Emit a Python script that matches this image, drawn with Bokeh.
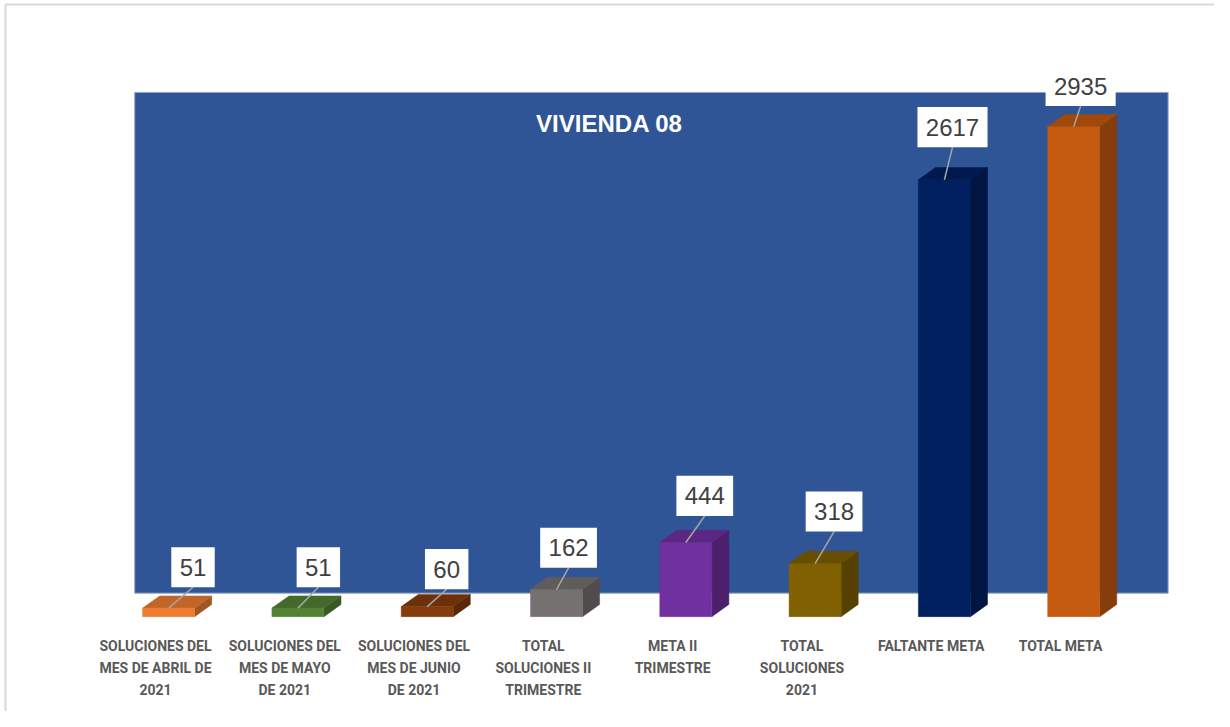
from bokeh.plotting import figure
from bokeh.models import Range1d
from bokeh.core.properties import value
from bokeh.embed import file_html
from bokeh.resources import INLINE

# ---------------- data ----------------
categories = [
    "SOLUCIONES DEL\nMES DE ABRIL DE\n2021",
    "SOLUCIONES DEL\nMES DE MAYO\nDE 2021",
    "SOLUCIONES DEL\nMES DE JUNIO\nDE 2021",
    "TOTAL\nSOLUCIONES II\nTRIMESTRE",
    "META II\nTRIMESTRE",
    "TOTAL\nSOLUCIONES\n2021",
    "FALTANTE META",
    "TOTAL META",
]
values = [51, 51, 60, 162, 444, 318, 2617, 2935]
bar_colors = ["#ED7D31", "#548235", "#843C0C", "#767171",
              "#7030A0", "#806000", "#002060", "#C55A11"]
title_text = "VIVIENDA 08"

# ---------------- layout (pixels) ----------------
W, H = 1214, 711
SX, SY = W / 1230.0, H / 727.0   # reference-pixel -> canvas-pixel
CAT_PX = 131.0 * SX               # pixels per category
CAT0_PX = 157.0 * SX              # canvas x of first category centre
BASE_PX = 630.0 * SY              # canvas y of value 0
PPU = 0.1707 * SY                 # pixels per value unit


def px2x(d):
    return d * SX / CAT_PX


def px2y(d):
    return d * SY / PPU


def shade(hex_color, f):
    h = hex_color.lstrip("#")
    r, g, b = (int(h[i:i + 2], 16) for i in (0, 2, 4))
    return "#%02x%02x%02x" % (int(r * f), int(g * f), int(b * f))


p = figure(width=W, height=H,
           x_range=Range1d(-CAT0_PX / CAT_PX, (W - CAT0_PX) / CAT_PX),
           y_range=Range1d(-(H - BASE_PX) / PPU, BASE_PX / PPU),
           output_backend="svg", toolbar_location=None,
           x_axis_type=None, y_axis_type=None, min_border=0)
p.grid.visible = False
p.outline_line_color = None
p.background_fill_color = "white"
p.border_fill_color = "white"

# chart-area border (top and left only, as in the reference)
bl, bt = px2x(5 - 157), px2y(630 - 4)
p.segment(x0=[bl, bl], y0=[bt, bt], x1=[bl, px2x(1230 - 157)], y1=[px2y(630 - 727), bt],
          line_color="#D9D9D9", line_width=2)

# back wall
p.quad(left=[px2x(136 - 157)], right=[px2x(1183 - 157)],
       bottom=[px2y(630 - 606)], top=[px2y(630 - 94)],
       fill_color="#2F5597", line_color="#8FA6CF", line_width=1)

# 3D bars
FL, FR = px2x(-13.0), px2x(39.7)
DX, DY = px2x(17.3), px2y(12.5)

side_xs, side_ys, side_c = [], [], []
top_xs, top_ys, top_c = [], [], []
for i, (v, c) in enumerate(zip(values, bar_colors)):
    L, R = i + FL, i + FR
    side_xs.append([R, R, R + DX, R + DX])
    side_ys.append([0, v, v + DY, DY])
    side_c.append(shade(c, 0.68))
    top_xs.append([L, R, R + DX, L + DX])
    top_ys.append([v, v, v + DY, v + DY])
    top_c.append(shade(c, 0.82))

p.patches(xs=side_xs, ys=side_ys, fill_color=side_c, line_color=side_c, line_width=0.5)
p.patches(xs=top_xs, ys=top_ys, fill_color=top_c, line_color=top_c, line_width=0.5)
p.quad(left=[i + FL for i in range(len(values))],
       right=[i + FR for i in range(len(values))],
       bottom=[0] * len(values), top=values,
       fill_color=bar_colors, line_color=bar_colors, line_width=0.5)

# data labels (boxes with leader lines)
lab_dx = [24.7, 20.7, 19.7, 12.2, 19.2, 19.2, 8.2, 7.0]
lab_dy = [41.8, 41.8, 38.3, 42.8, 47.7, 53.2, 53.8, 41.5]
BOX_H = 41
bx, by, bw, bx0, by0, by1 = [], [], [], [], [], []
for i, v in enumerate(values):
    cx = i + (FL + FR) / 2
    x = cx + px2x(lab_dx[i])
    y = v + px2y(lab_dy[i])
    bx.append(x)
    by.append(y)
    bw.append((17 + 13.5 * len(str(v))) * SX)
    bx0.append(cx)
    by0.append(v)
    by1.append(y - px2y(BOX_H / 2))

p.segment(x0=bx0, y0=by0, x1=bx, y1=by1, line_color="#A6A6A6", line_width=1.5)
p.rect(x=bx, y=by, width=bw, height=[BOX_H * SY] * len(bx),
       width_units="screen", height_units="screen",
       fill_color="white", line_color=None)
p.text(x=bx, y=by, text=[str(v) for v in values],
       text_font=value("Liberation Sans"), text_font_size="24px",
       text_color="#404040", text_align="center", text_baseline="middle")

# title
p.text(x=[px2x(617 - 157)], y=[px2y(630 - 126)], text=[title_text],
       text_font=value("Liberation Sans"), text_font_size="24px",
       text_font_style="bold", text_color="white",
       text_align="center", text_baseline="middle")

# category labels
p.text(x=list(range(len(categories))), y=[px2y(630 - 652)] * len(categories),
       text=categories, text_font=value("Roboto"),
       text_font_size="14px", text_font_style="bold", text_color="#595959",
       text_align="center", text_baseline="top", text_line_height=1.36)

open("out.html", "w").write(file_html(p, INLINE))
